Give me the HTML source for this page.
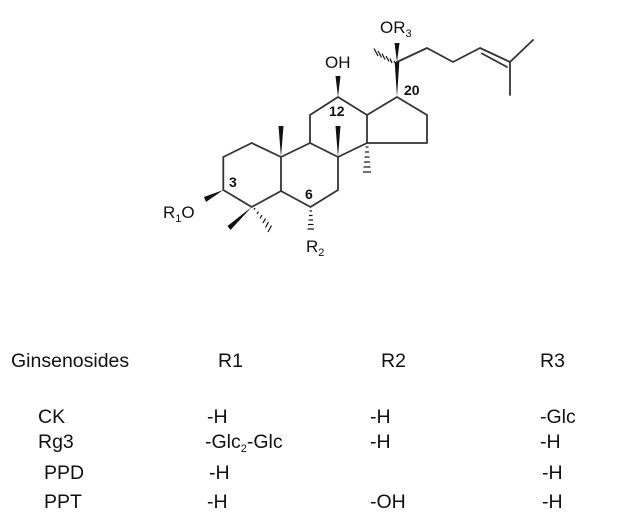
<!DOCTYPE html>
<html><head><meta charset="utf-8"><style>
html,body{margin:0;padding:0;background:#fff;width:630px;height:532px;overflow:hidden}
svg{display:block}
text{font-family:"Liberation Sans",Arial,sans-serif;fill:#111}
</style></head><body>
<svg width="630" height="532" viewBox="0 0 630 532" xmlns="http://www.w3.org/2000/svg">
<g stroke="#333" stroke-width="1.8" fill="none" stroke-linejoin="round" stroke-linecap="round">
<polyline points="251.7,143 223.3,157 223.3,190 251.7,207 281,191 281,157 251.7,143"/>
<polyline points="281,191 310.5,207 338,190 338,157 310,143 281,157"/>
<polyline points="310,143 310,115 338,97 367,115 367,143 338,157"/>
<polyline points="367,115 397,97 427,115 427,143 367,143"/>
<polyline points="397,62 427,48 453,62 480,48 510,62 533,40"/>
<line x1="510" y1="62" x2="510" y2="95"/>
<line x1="482" y1="53.5" x2="507" y2="67"/>
</g>
<g fill="#111" stroke="none">
<polygon points="397,97 394.7,62 399.3,62"/>
<polygon points="397,62 394.5,43 399.5,43"/>
<polygon points="338,97 335.5,76 340.5,76"/>
<polygon points="281,157 278.5,126 283.5,126"/>
<polygon points="338,157 335.5,126 340.5,126"/>
<polygon points="223.3,190 204,197 206,202"/>
<polygon points="251.7,207 227.5,226 230.5,230"/>
</g>
<g stroke="#111" stroke-width="1.2">
<line x1="394" y1="61" x2="396" y2="64"/><line x1="390" y1="58.5" x2="392" y2="63"/><line x1="386" y1="56" x2="389" y2="61.5"/><line x1="382" y1="53.5" x2="385" y2="59.5"/><line x1="378" y1="51" x2="381.5" y2="57.5"/><line x1="374" y1="48.5" x2="378" y2="56"/>
<line x1="365.5" y1="147" x2="368.5" y2="147"/><line x1="365" y1="152" x2="369" y2="152"/><line x1="364.5" y1="157" x2="369.5" y2="157"/><line x1="364" y1="162" x2="370" y2="162"/><line x1="363.5" y1="167" x2="370.5" y2="167"/><line x1="363" y1="172" x2="371" y2="172"/>
<line x1="309.5" y1="211" x2="312" y2="211"/><line x1="309" y1="215.5" x2="312.5" y2="215.5"/><line x1="308.5" y1="220" x2="313" y2="220"/><line x1="308" y1="224.5" x2="313.5" y2="224.5"/><line x1="307.5" y1="229" x2="314" y2="229"/>
<line x1="254" y1="209.5" x2="255" y2="208"/><line x1="257" y1="214" x2="258.5" y2="211.5"/><line x1="260" y1="218.5" x2="262" y2="215"/><line x1="263" y1="223" x2="265.5" y2="218.5"/><line x1="265.5" y1="227.5" x2="268.5" y2="222"/><line x1="268" y1="232" x2="271.5" y2="225.5"/>
</g>
<text x="380" y="33" font-size="17">OR<tspan font-size="11" dy="4">3</tspan></text>
<text x="325" y="68" font-size="17">OH</text>
<text x="329" y="116" font-size="14" font-weight="bold">12</text>
<text x="404" y="95" font-size="14" font-weight="bold">20</text>
<text x="229" y="187" font-size="14" font-weight="bold">3</text>
<text x="305" y="199" font-size="14" font-weight="bold">6</text>
<text x="163" y="218" font-size="17">R<tspan font-size="11" dy="4">1</tspan><tspan dy="-4">O</tspan></text>
<text x="306" y="252" font-size="17">R<tspan font-size="11" dy="4">2</tspan></text>
<g font-size="19.5">
<text x="11" y="367">Ginsenosides</text>
<text x="218" y="367">R1</text>
<text x="381" y="367">R2</text>
<text x="540" y="367">R3</text>
<text x="38" y="423">CK</text>
<text x="207" y="423">-H</text>
<text x="370" y="423">-H</text>
<text x="540" y="423">-Glc</text>
<text x="38" y="448">Rg3</text>
<text x="205" y="448">-Glc<tspan font-size="11" dy="4">2</tspan><tspan dy="-4">-Glc</tspan></text>
<text x="370" y="448">-H</text>
<text x="540" y="448">-H</text>
<text x="44" y="479">PPD</text>
<text x="209" y="479">-H</text>
<text x="542" y="479">-H</text>
<text x="44" y="508">PPT</text>
<text x="207" y="508">-H</text>
<text x="370" y="508">-OH</text>
<text x="542" y="508">-H</text>
</g>
</svg>
</body></html>
